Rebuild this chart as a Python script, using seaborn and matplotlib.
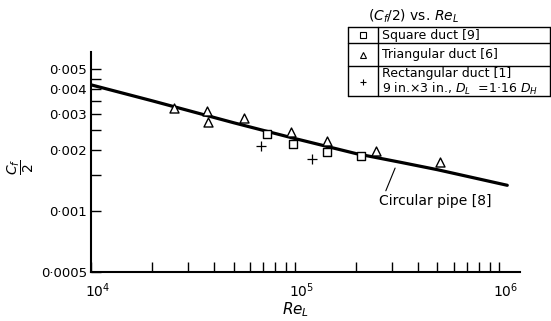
import numpy as np
import pandas as pd
import matplotlib
matplotlib.use('Agg')
import matplotlib.pyplot as plt
import seaborn as sns
from matplotlib.lines import Line2D
from matplotlib.ticker import FixedLocator, NullFormatter, LogLocator
import matplotlib.transforms as mtransforms

# 圆管曲线 (circular pipe [8])
pipe_re = [1e4, 2e4, 5e4, 1e5, 2e5, 3.3e5, 5e5, 1.1e6]
pipe_cf = [0.0042, 0.0035, 0.00273, 0.00228, 0.00192, 0.00174, 0.0016, 0.00134]

# 方管 square duct [9]
sq_re = [72900, 97800, 143000, 211000]
sq_cf = [0.00239, 0.00214, 0.00195, 0.00188]

# 三角管 triangular duct [6]
tri_re = [25500, 37000, 37500, 56200, 95600, 143000, 249000, 514000]
tri_cf = [0.00321, 0.00312, 0.00274, 0.00287, 0.00245, 0.00221, 0.00197, 0.00174]

# 矩形管 rectangular duct [1]
rect_re = [68100, 121000]
rect_cf = [0.00209, 0.0018]

y_ticks = [0.0005, 0.001, 0.002, 0.003, 0.004, 0.005]
y_ticklabels = ['0·0005', '0·001', '0·002', '0·003', '0·004', '0·005']
y_minor = [0.0015, 0.0025, 0.0035, 0.0045]
x_ticks = [1e4, 1e5, 1e6]
x_ticklabels = ['10$^4$', '10$^5$', '10$^6$']

legend_rows = ['Square duct [9]', 'Triangular duct [6]',
               'Rectangular duct [1]\n9 in.×3 in., $D_L$  =1·16 $D_H$']

sns.set_style('ticks')
plt.rcParams['font.family'] = ['DejaVu Sans']
plt.rcParams['mathtext.fontset'] = 'dejavusans'
plt.rcParams['text.color'] = 'black'
plt.rcParams['axes.labelcolor'] = 'black'
plt.rcParams['xtick.color'] = 'black'
plt.rcParams['ytick.color'] = 'black'

W, H = 551, 321
fig = plt.figure(figsize=(W / 100, H / 100), dpi=100)
ax = fig.add_axes([91 / W, 1 - 272 / H, (520 - 91) / W, (272 - 52) / H])

df_pipe = pd.DataFrame({'Re': pipe_re, 'cf': pipe_cf})
sns.lineplot(x='Re', y='cf', data=df_pipe, ax=ax, color='black', linewidth=2.3)

sns.scatterplot(x=sq_re, y=sq_cf, ax=ax, marker='s', s=36,
                facecolor='white', edgecolor='black', linewidth=1.0, zorder=3)
sns.scatterplot(x=tri_re, y=tri_cf, ax=ax, marker='^', s=42,
                facecolor='white', edgecolor='black', linewidth=1.0, zorder=3)
sns.scatterplot(x=rect_re, y=rect_cf, ax=ax, marker='+', s=45,
                color='black', linewidth=0.9, zorder=3)

ax.set_xscale('log')
ax.set_yscale('log')
ax.set_xlim(1e4, 1.27e6)
ax.set_ylim(0.0005, 0.0061)

ax.yaxis.set_major_locator(FixedLocator(y_ticks))
ax.set_yticklabels(y_ticklabels, fontsize=9.5)
ax.yaxis.set_minor_locator(FixedLocator(y_minor))
ax.yaxis.set_minor_formatter(NullFormatter())
ax.xaxis.set_major_locator(FixedLocator(x_ticks))
ax.set_xticklabels(x_ticklabels, fontsize=10)
ax.xaxis.set_minor_locator(LogLocator(base=10, subs=np.arange(2, 10)))
ax.xaxis.set_minor_formatter(NullFormatter())

ax.tick_params(axis='both', which='both', direction='in', length=7, width=1.0, color='black')
ax.tick_params(axis='y', pad=3)
ax.tick_params(axis='x', pad=7)
shift = mtransforms.ScaledTranslation(7 / 100, 0, fig.dpi_scale_trans)
for lab in ax.get_xticklabels():
    lab.set_transform(lab.get_transform() + shift)

sns.despine(ax=ax)
for sp in ['left', 'bottom']:
    ax.spines[sp].set_linewidth(1.5)
    ax.spines[sp].set_color('black')

ax.set_xlabel('$Re_L$', fontsize=11)
ax.xaxis.set_label_coords(0.476, -0.127)
ax.set_ylabel(r'$\dfrac{C_f}{2}$', fontsize=10, rotation=90)
ax.yaxis.set_label_coords(-0.128, 0.477)

ax.annotate('Circular pipe [8]', xy=(3.1e5, 0.00163), xytext=(2.58e5, 0.00112),
            fontsize=10, va='center', ha='left',
            arrowprops=dict(arrowstyle='-', color='black', lw=0.8,
                            shrinkA=0, shrinkB=0,
                            relpos=(0.05, 1.0)))

# 图例表格
def fx(x):
    return x / W

def fy(y):
    return 1 - y / H

L, R, T, B = 348, 550, 27, 96
d1, d2 = 43, 66
div = 378
fig.text(fx(414), fy(16), '$(C_f/2)$ vs. $Re_L$', fontsize=10, ha='center', va='center')
for (xa, ya, xb, yb) in [(L, T, R, T), (L, d1, R, d1), (L, d2, R, d2), (L, B, R, B),
                         (L, T, L, B), (R - 0.5, T, R - 0.5, B), (div, T, div, B)]:
    fig.add_artist(Line2D([fx(xa), fx(xb)], [fy(ya), fy(yb)], color='black', lw=1.0,
                          transform=fig.transFigure))
row_y = [(T + d1) / 2, (d1 + d2) / 2, (d2 + B) / 2 + 1]
row_m = [('s', 'white'), ('^', 'white'), ('+', 'black')]
for yy, (m, fc), txt in zip(row_y, row_m, legend_rows):
    fig.add_artist(Line2D([fx((L + div) / 2)], [fy(yy)], marker=m, markersize=5,
                          markerfacecolor=fc, markeredgecolor='black', markeredgewidth=0.8,
                          color='black', linestyle='none', transform=fig.transFigure))
    fig.text(fx(div + 4), fy(yy), txt, fontsize=9, ha='left', va='center', linespacing=1.05)

fig.savefig('out.png', dpi=100)
